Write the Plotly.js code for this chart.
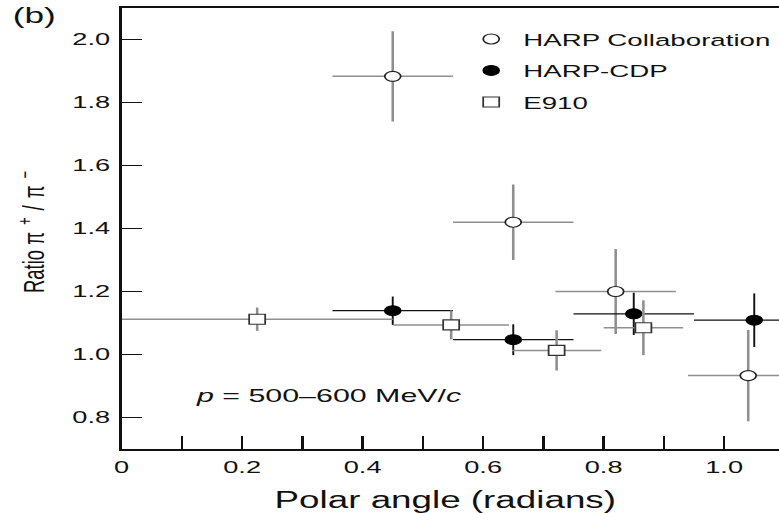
<!DOCTYPE html>
<html>
<head>
<meta charset="utf-8">
<script src="https://cdn.plot.ly/plotly-3.0.1.min.js"></script>
<style>
  html, body { margin: 0; padding: 0; background: #fff; overflow: hidden; }
  /* the reference figure is stretched horizontally; reproduce that stretch */
  #plot { width: 487px; height: 513px; transform: scaleX(1.6); transform-origin: 0 0; }
</style>
</head>
<body>
<div id="plot"></div>
<script>
// ---- data ----
const harpX    = [0.45, 0.65, 0.82, 1.04];
const harpY    = [1.883, 1.420, 1.200, 0.933];
const harpXerr = [0.10, 0.10, 0.10, 0.10];
const harpYerr = [0.143, 0.120, 0.135, 0.145];

const cdpX    = [0.45, 0.65, 0.85, 1.05];
const cdpY    = [1.139, 1.047, 1.129, 1.109];
const cdpXerr = [0.10, 0.10, 0.10, 0.10];
const cdpYerr = [0.045, 0.049, 0.067, 0.085];

const e910X    = [0.225, 0.547, 0.722, 0.866];
const e910Y    = [1.112, 1.094, 1.013, 1.085];
const e910Xerr = [0.225, 0.096, 0.074, 0.066];
const e910Yerr = [0.037, 0.046, 0.064, 0.087];

const xTickVals  = [0, 0.2, 0.4, 0.6, 0.8, 1.0];
const xTickText  = ["0", "0.2", "0.4", "0.6", "0.8", "1.0"];
const xMinorVals = [0.1, 0.3, 0.5, 0.7, 0.9];
const yTickVals  = [0.8, 1.0, 1.2, 1.4, 1.6, 1.8, 2.0];
const yTickText  = ["0.8", "1.0", "1.2", "1.4", "1.6", "1.8", "2.0"];

const FONT = "Liberation Sans, Arial, Helvetica, sans-serif";
const GRAY = "#8f8f8f";

function errs(arr, color, th) {
  return { type: "data", array: arr, color: color, thickness: th, width: 0, visible: true };
}

const traces = [
  { type: "scatter", mode: "markers", name: "HARP Collaboration", legendgroup: "a",
    x: harpX, y: harpY, error_x: errs(harpXerr, GRAY, 1.5), error_y: errs(harpYerr, GRAY, 1.6),
    marker: { symbol: "circle", size: 10, color: "#ffffff", line: { color: "#222", width: 1.1 } } },
  { type: "scatter", mode: "markers", name: "HARP-CDP", legendgroup: "b",
    x: cdpX, y: cdpY, error_x: errs(cdpXerr, "#111", 1.2), error_y: errs(cdpYerr, "#111", 1.2),
    marker: { symbol: "circle", size: 10, color: "#000000", line: { color: "#000", width: 1 } } },
  { type: "scatter", mode: "markers", name: "E910", legendgroup: "c",
    x: e910X, y: e910Y, error_x: errs(e910Xerr, GRAY, 1.5), error_y: errs(e910Yerr, GRAY, 1.6),
    marker: { symbol: "square", size: 10, color: "#ffffff", line: { color: "#333", width: 1.1 } } }
];

const layout = {
  width: 487, height: 513,
  margin: { l: 76, r: 0, t: 8, b: 64, pad: 0 },
  paper_bgcolor: "#fff", plot_bgcolor: "#fff",
  font: { family: FONT, color: "#111", size: 16 },
  showlegend: true,
  legend: {
    x: 1, xanchor: "right", y: 0.97, yanchor: "top",
    traceorder: "grouped", tracegroupgap: 6,
    bgcolor: "rgba(0,0,0,0)", borderwidth: 0,
    font: { family: FONT, size: 17.3, color: "#111" }
  },
  xaxis: {
    range: [0, 1.0914], autorange: false,
    tickmode: "array", tickvals: xTickVals, ticktext: xTickText,
    ticks: "inside", ticklen: 13, tickwidth: 1.5, tickcolor: "#111",
    minor: { tickmode: "array", tickvals: xMinorVals, ticks: "inside", ticklen: 13, tickwidth: 1.5, tickcolor: "#111", showgrid: false },
    showline: true, linecolor: "#111", linewidth: 1.8, mirror: true,
    showgrid: false, zeroline: false, ticklabelstandoff: 2,
    tickfont: { family: FONT, size: 17, color: "#111" },
    title: { text: "Polar angle (radians)&nbsp;", font: { family: FONT, size: 23, color: "#111" }, standoff: 17 },
    automargin: false
  },
  yaxis: {
    range: [0.7, 2.1], autorange: false,
    tickmode: "array", tickvals: yTickVals, ticktext: yTickText,
    ticks: "inside", ticklen: 13, tickwidth: 1.5, tickcolor: "#111",
    showline: true, linecolor: "#111", linewidth: 1.8, mirror: false,
    showgrid: false, zeroline: false, ticklabelstandoff: 2,
    tickfont: { family: FONT, size: 17, color: "#111" },
    title: { text: "Ratio <span style=\"letter-spacing:7px\">π<sup>+</sup>/π<sup>−</sup></span>", font: { family: FONT, size: 18.5, color: "#111" }, standoff: 12 },
    automargin: false
  },
  annotations: [
    { text: "<i>p</i> = 500–600 MeV/<i>c</i>", xref: "x", yref: "y", x: 0.118, y: 0.870,
      xanchor: "left", yanchor: "middle", showarrow: false, font: { family: FONT, size: 19, color: "#111" } },
    { text: "(b)", xref: "paper", yref: "paper", x: -0.170, y: 0.982,
      xanchor: "left", yanchor: "middle", showarrow: false, font: { family: FONT, size: 22, color: "#111" } }
  ]
};

Plotly.newPlot(document.getElementById("plot"), traces, layout, { staticPlot: true, displayModeBar: false });
</script>
</body>
</html>
